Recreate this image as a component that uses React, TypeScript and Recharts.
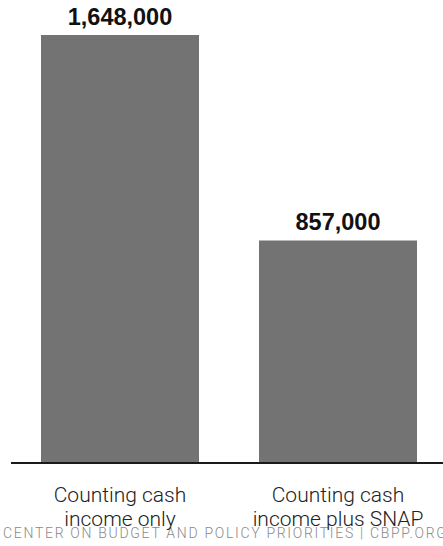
import React from "react";
import { BarChart, Bar, XAxis, YAxis, LabelList } from "recharts";

const categories = ["Counting cash|income only", "Counting cash|income plus SNAP"];
const values = [1648000, 857000];
const footer = "CENTER ON BUDGET AND POLICY PRIORITIES | CBPP.ORG";

const data = categories.map((c, i) => ({ name: c, value: values[i] }));

const CatTick = (props: any) => {
  const { x, y, payload } = props;
  const lines = String(payload.value).split("|");
  return (
    <g transform={`translate(${x},${y})`}>
      {lines.map((l: string, i: number) => (
        <text
          key={i}
          x={0}
          y={31 + i * 24}
          textAnchor="middle"
          fontFamily="Roboto, sans-serif"
          fontWeight={300}
          fontSize={21}
          fill="#222"
        >
          {l}
        </text>
      ))}
    </g>
  );
};

export default function App() {
  return (
    <div style={{ position: "absolute", left: 0, top: 0, width: 443, height: 546, overflow: "hidden", background: "#fff" }}>
      <BarChart
        width={447}
        height={546}
        data={data}
        margin={{ top: 35, right: 0, left: 11, bottom: 0 }}
      >
        <XAxis
          dataKey="name"
          height={83}
          tickLine={false}
          axisLine={{ stroke: "#1a1a1a", strokeWidth: 2 }}
          tick={<CatTick />}
          interval={0}
        />
        <YAxis hide domain={[0, 1648000]} />
        <Bar dataKey="value" fill="#737373" barSize={158} isAnimationActive={false}>
          <LabelList
            dataKey="value"
            position="top"
            offset={10}
            formatter={(v: any) => Number(v).toLocaleString("en-US")}
            style={{ fontFamily: "Liberation Sans, Arial, sans-serif", fontWeight: 700, fontSize: 23.5, fill: "#111" }}
          />
        </Bar>
        <text
          x={3}
          y={538}
          fontFamily="Roboto, sans-serif"
          fontWeight={300}
          fontSize={14}
          letterSpacing={1.7}
          fill="#8a8a8a"
        >
          {footer}
        </text>
      </BarChart>
    </div>
  );
}
